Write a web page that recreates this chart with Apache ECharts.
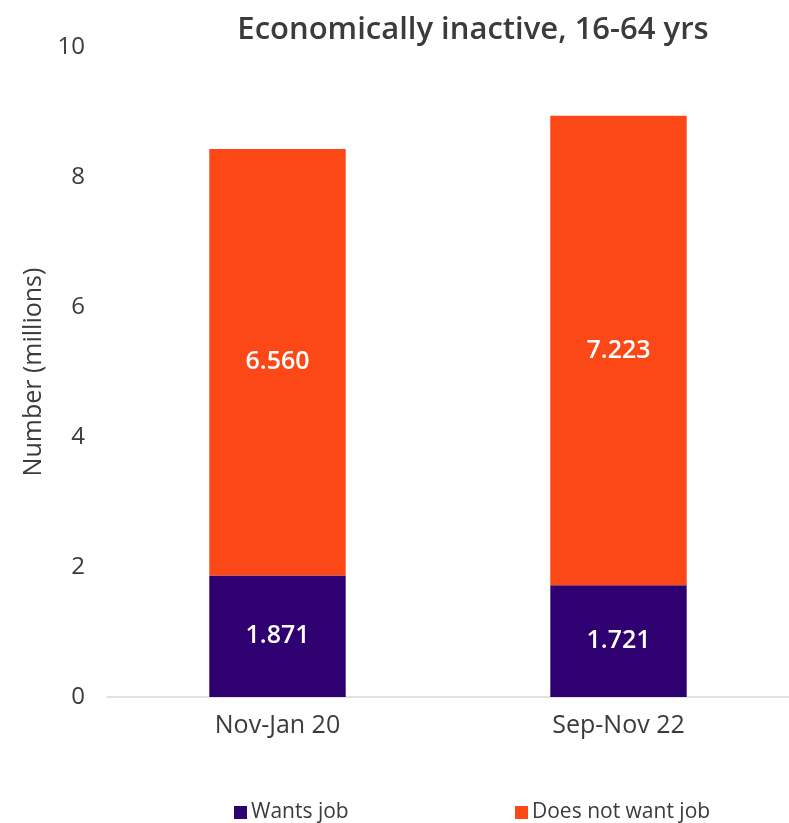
<!DOCTYPE html>
<html>
<head>
<meta charset="utf-8">
<script src="https://cdn.jsdelivr.net/npm/echarts@6/dist/echarts.min.js"></script>
<style>html,body{margin:0;padding:0;background:#fff}#c{width:789px;height:823px}</style>
</head>
<body>
<div id="c"></div>
<script>
var categories = ['Nov-Jan 20', 'Sep-Nov 22'];
var wantsJob = [1.871, 1.721];
var doesNotWantJob = [6.560, 7.223];
var seriesNames = ['Wants job', 'Does not want job'];
var yTicks = [0, 2, 4, 6, 8, 10];
var titleText = 'Economically inactive, 16-64 yrs';
var yAxisTitle = 'Number (millions)';

var chart = echarts.init(document.getElementById('c'), null, {renderer: 'canvas'});
var font = '"Open Sans", sans-serif';
var txt = '#3b3b3b';
var legendBase = {
  top: 797, itemWidth: 13, itemHeight: 13, icon: 'rect', itemGap: 0,
  textStyle: {fontFamily: font, fontSize: 21, color: txt, padding: [0, 0, 0, -1]}
};
chart.setOption({
  animation: false,
  backgroundColor: '#ffffff',
  title: {
    text: titleText, left: 468, textAlign: 'center', top: 10,
    textStyle: {fontFamily: font, fontSize: 31, fontWeight: 600, color: txt}
  },
  legend: [
    Object.assign({}, legendBase, {left: 229, data: [seriesNames[0]]}),
    Object.assign({}, legendBase, {left: 510, data: [seriesNames[1]]})
  ],
  grid: {left: 107, right: 0, top: 47, bottom: 126, containLabel: false},
  xAxis: {
    type: 'category', data: categories,
    axisLine: {lineStyle: {color: '#d9d9d9', width: 1.5}},
    axisTick: {show: false},
    axisLabel: {fontFamily: font, fontSize: 25, color: txt, margin: 16}
  },
  yAxis: {
    type: 'value', min: yTicks[0], max: yTicks[yTicks.length - 1], interval: 2,
    name: yAxisTitle, nameLocation: 'middle', nameGap: 59, nameRotate: 90,
    nameTextStyle: {fontFamily: font, fontSize: 25, color: txt},
    axisLine: {show: false}, axisTick: {show: false}, splitLine: {show: false},
    axisLabel: {fontFamily: font, fontSize: 24, color: txt, margin: 22}
  },
  series: [
    {
      name: seriesNames[0], type: 'bar', stack: 'a', data: wantsJob, barWidth: '40%',
      itemStyle: {color: '#2e0070'},
      label: {show: true, position: 'inside', color: '#ffffff', fontFamily: font, fontSize: 25, fontWeight: 600,
        formatter: function (p) { return p.value.toFixed(3); }}
    },
    {
      name: seriesNames[1], type: 'bar', stack: 'a', data: doesNotWantJob, barWidth: '40%',
      itemStyle: {color: '#fc4716'},
      label: {show: true, position: 'inside', color: '#ffffff', fontFamily: font, fontSize: 25, fontWeight: 600,
        formatter: function (p) { return p.value.toFixed(3); }}
    }
  ]
});
</script>
</body>
</html>
